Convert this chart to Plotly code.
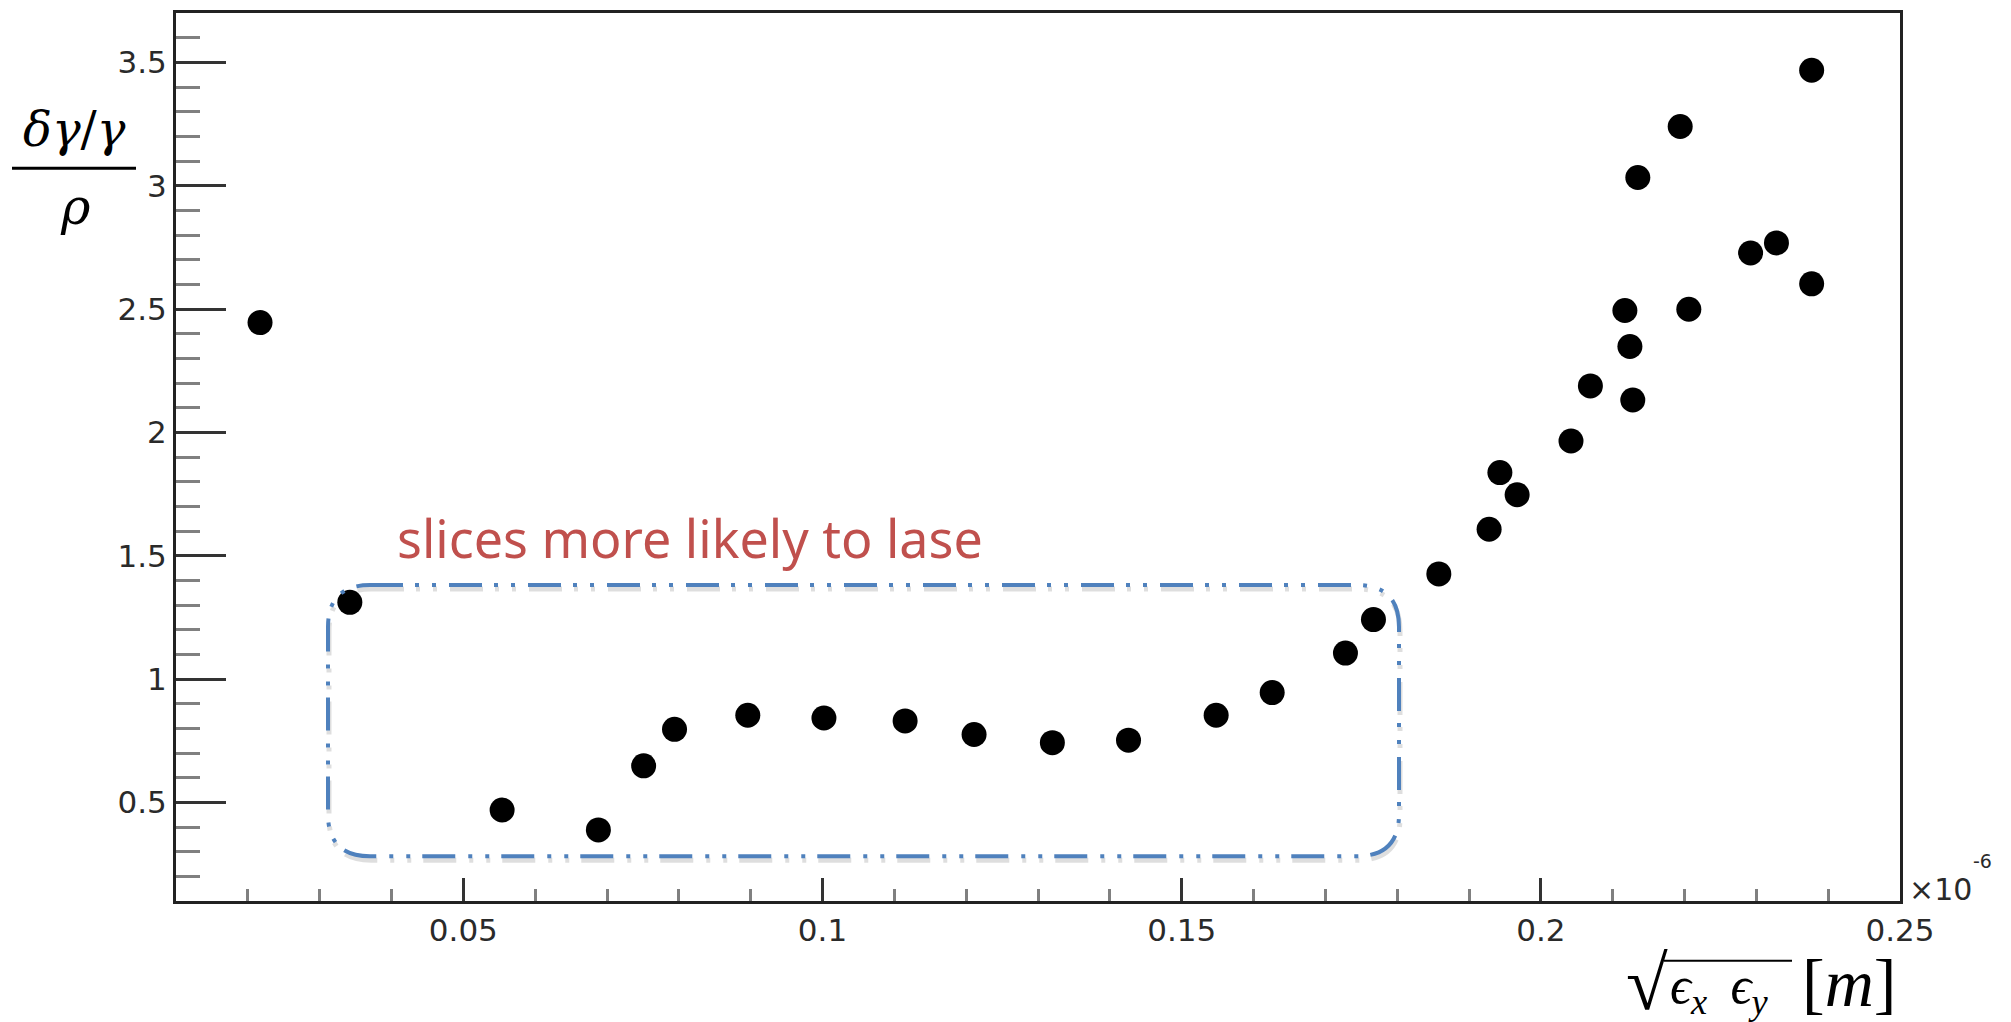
import plotly.graph_objects as go

# ---------------- data (x in units of 1e-6 m) ----------------
emit_x = [0.0217, 0.0342, 0.0554, 0.0688, 0.0751, 0.0794, 0.0896, 0.1002,
          0.1115, 0.1211, 0.1320, 0.1426, 0.1548, 0.1626, 0.1728, 0.1767,
          0.1858, 0.1928, 0.1943, 0.1967, 0.2042, 0.2069, 0.2117, 0.2124,
          0.2128, 0.2135, 0.2194, 0.2206, 0.2292, 0.2328, 0.2377, 0.2377]
spread_y = [2.445, 1.311, 0.469, 0.388, 0.648, 0.796, 0.853, 0.842,
            0.830, 0.775, 0.742, 0.752, 0.853, 0.945, 1.105, 1.241,
            1.426, 1.607, 1.837, 1.747, 1.965, 2.188, 2.494, 2.348,
            2.131, 3.033, 3.240, 2.499, 2.727, 2.768, 3.468, 2.602]

x_tick_vals = [0.05, 0.1, 0.15, 0.2, 0.25]
x_tick_text = ["0.05", "0.1", "0.15", "0.2", "0.25"]
y_tick_vals = [0.5, 1, 1.5, 2, 2.5, 3, 3.5]
y_tick_text = ["0.5", "1", "1.5", "2", "2.5", "3", "3.5"]

annotation_text = "slices more likely to lase"

# ---------------- layout geometry ----------------
W, H = 2011, 1022
OFF = 8  # default page body margin
PL, PR, PT, PB = 176, 1900, 10, 901  # plot area in page pixels
PW, PH = PR - PL, PB - PT
L, T = PL - OFF, PT - OFF
R, B = W - (PR - OFF), H - (PB - OFF)


def px(xp):
    return (xp - PL) / PW


def py(yp):
    return (PB - yp) / PH


def rounded_rect(x0, y0, x1, y1, r, dx=0, dy=0):
    x0 += dx; x1 += dx; y0 += dy; y1 += dy
    pts = [
        f"M {px(x0 + r)},{py(y0)}",
        f"L {px(x1 - r)},{py(y0)}",
        f"Q {px(x1)},{py(y0)} {px(x1)},{py(y0 + r)}",
        f"L {px(x1)},{py(y1 - r)}",
        f"Q {px(x1)},{py(y1)} {px(x1 - r)},{py(y1)}",
        f"L {px(x0 + r)},{py(y1)}",
        f"Q {px(x0)},{py(y1)} {px(x0)},{py(y1 - r)}",
        f"L {px(x0)},{py(y0 + r)}",
        f"Q {px(x0)},{py(y0)} {px(x0 + r)},{py(y0)}",
    ]
    return " ".join(pts)


fig = go.Figure()
fig.add_trace(go.Scatter(
    x=emit_x, y=spread_y, mode="markers",
    marker=dict(size=25, color="black", line=dict(width=0)),
    hoverinfo="x+y", showlegend=False,
))

tickfont = dict(family="DejaVu Sans", size=31, color="#2a2a2a")

fig.update_layout(
    width=W, height=H, autosize=False,
    margin=dict(l=L, r=R, t=T, b=B, pad=0),
    paper_bgcolor="white", plot_bgcolor="white",
    font=dict(family="DejaVu Sans", color="#333333"),
    xaxis=dict(
        range=[0.01, 0.25], tickmode="array", tickvals=x_tick_vals,
        ticktext=x_tick_text, ticks="inside", ticklen=23, tickwidth=3,
        tickcolor="#333333", showline=True, linewidth=3, linecolor="#222222",
        mirror=True, showgrid=False, zeroline=False, tickfont=tickfont,
        minor=dict(tickmode="linear", tick0=0, dtick=0.01, ticks="inside",
                   ticklen=12, tickwidth=3, tickcolor="#808080", showgrid=False),
    ),
    yaxis=dict(
        range=[0.1, 3.7], tickmode="array", tickvals=y_tick_vals,
        ticktext=y_tick_text, ticks="inside", ticklen=50, tickwidth=3,
        tickcolor="#333333", showline=True, linewidth=3, linecolor="#222222",
        mirror=True, showgrid=False, zeroline=False, tickfont=tickfont,
        minor=dict(tickmode="linear", tick0=0, dtick=0.1, ticks="inside",
                   ticklen=24, tickwidth=3, tickcolor="#808080", showgrid=False),
    ),
)

box = (328, 584, 1399, 856, 42)
dash = "33px,12px,4px,13px,4px,13px"
# soft shadow under the dashed box
fig.add_shape(type="path", xref="paper", yref="paper",
              path=rounded_rect(*box, dx=1, dy=4),
              line=dict(color="rgba(0,0,0,0.13)", width=5, dash=dash))
fig.add_shape(type="path", xref="paper", yref="paper",
              path=rounded_rect(*box),
              line=dict(color="#4F81BD", width=4, dash=dash))

serif = "Liberation Serif, DejaVu Serif, serif"

# y-axis title as a fraction
fig.add_annotation(xref="paper", yref="paper", x=px(74), y=py(126),
                   text="<i>δγ</i>/<i>γ</i>", showarrow=False,
                   xanchor="center", yanchor="middle",
                   font=dict(family="DejaVu Serif", size=48, color="black"))
fig.add_shape(type="line", xref="paper", yref="paper",
              x0=px(12), x1=px(136), y0=py(165.7), y1=py(165.7),
              line=dict(color="black", width=3))
fig.add_annotation(xref="paper", yref="paper", x=px(75), y=py(205),
                   text="<i>ρ</i>", showarrow=False,
                   xanchor="center", yanchor="middle",
                   font=dict(family="DejaVu Serif", size=50, color="black"))

# x-axis title: sqrt(eps_x eps_y) [m]
fig.add_annotation(xref="paper", yref="paper", x=px(1670), y=py(983),
                   text="√", showarrow=False, xanchor="right", yanchor="middle",
                   font=dict(family="Liberation Serif", size=76, color="black"))
fig.add_shape(type="line", xref="paper", yref="paper",
              x0=px(1664), x1=px(1792), y0=py(961), y1=py(961),
              line=dict(color="black", width=2))
fig.add_annotation(xref="paper", yref="paper", x=px(1668), y=py(990),
                   text="<i>ϵ</i><sub><i>x</i></sub>\u2009 <i>ϵ</i><sub><i>y</i></sub>",
                   showarrow=False, xanchor="left", yanchor="middle",
                   font=dict(family=serif, size=52, color="black"))
fig.add_annotation(xref="paper", yref="paper", x=px(1800), y=py(983),
                   text="[<i>m</i>]", showarrow=False, xanchor="left",
                   yanchor="middle",
                   font=dict(family=serif, size=68, color="black"))

# axis exponent label
fig.add_annotation(xref="paper", yref="paper", x=px(1907), y=py(889),
                   text="×10", showarrow=False, xanchor="left", yanchor="middle",
                   font=dict(family="DejaVu Sans", size=30, color="#2a2a2a"))
fig.add_annotation(xref="paper", yref="paper", x=px(1971), y=py(861),
                   text="-6", showarrow=False, xanchor="left", yanchor="middle",
                   font=dict(family="DejaVu Sans", size=19, color="#2a2a2a"))

# red annotation
fig.add_annotation(xref="paper", yref="paper", x=px(690), y=py(536),
                   text=annotation_text, showarrow=False,
                   xanchor="center", yanchor="middle",
                   font=dict(family="Noto Sans", size=52, color="#C0504D"))

fig.write_html("out.html")
